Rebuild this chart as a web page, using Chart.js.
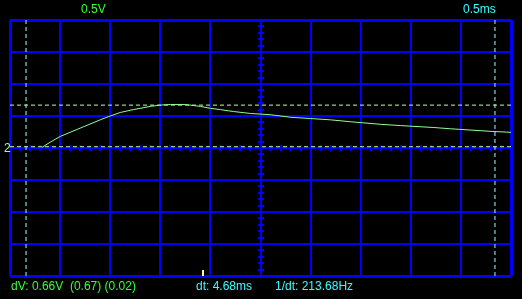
<!DOCTYPE html>
<html>
<head>
<meta charset="utf-8">
<script src="https://cdn.jsdelivr.net/npm/chart.js@4"></script>
<style>
  html, body { margin: 0; padding: 0; background: #000; }
  #wrap { width: 522px; height: 299px; }
</style>
</head>
<body>
<div id="wrap"><canvas id="scope"></canvas></div>
<script>
// trace: time in ms, voltage in V
const traceTime = [0.32, 0.40, 0.50, 0.70, 0.90, 1.00, 1.10, 1.23, 1.30, 1.40, 1.50, 1.60, 1.75, 1.90, 2.00, 2.10, 2.23, 2.40, 2.60, 2.80, 3.00, 3.20, 3.40, 3.70, 3.90, 4.23, 4.40, 4.60, 4.80, 5.00];
const traceVolts = [0.01, 0.09, 0.18, 0.31, 0.44, 0.50, 0.555, 0.60, 0.62, 0.65, 0.67, 0.68, 0.68, 0.65, 0.62, 0.60, 0.57, 0.54, 0.52, 0.48, 0.46, 0.44, 0.41, 0.37, 0.35, 0.32, 0.30, 0.28, 0.26, 0.245];

const cursorTimes = [0.16, 4.84];
const cursorVolts = [0.67, 0.02];
const triggerTime = 1.92;

const timeRange = [0, 5];
const voltRange = [-2, 2];
const divStep = 0.5;

const voltLabel = "0.5V";
const timeLabel = "0.5ms";
const dvText = "dV: 0.66V  (0.67) (0.02)";
const dtText = "dt: 4.68ms";
const freqText = "1/dt: 213.68Hz";
const channelMark = "2";

const tracePoints = traceTime.map((t, i) => ({ x: t, y: traceVolts[i] }));

const cursorSets = [];
cursorTimes.forEach(t => {
  cursorSets.push({
    data: [{ x: t, y: voltRange[0] }, { x: t, y: voltRange[1] }],
    borderColor: "#a0ffff", borderWidth: 1, borderDash: [4, 3],
    pointRadius: 0, clip: false
  });
});
cursorVolts.forEach(v => {
  cursorSets.push({
    data: [{ x: timeRange[0], y: v }, { x: timeRange[1], y: v }],
    borderColor: "#c0ffa0", borderWidth: 1, borderDash: [4, 3],
    pointRadius: 0, clip: false
  });
});

const scopePlugin = {
  id: "scope",
  beforeDraw(chart) {
    const c = chart.ctx;
    c.save();
    c.fillStyle = "#000";
    c.fillRect(0, 0, chart.width, chart.height);
    c.restore();
  },
  beforeDatasetsDraw(chart) {
    const c = chart.ctx, xs = chart.scales.x, ys = chart.scales.y;
    const cx = Math.round(xs.getPixelForValue(2.5));
    const cy = Math.round(ys.getPixelForValue(0));
    c.save();
    c.strokeStyle = "#0000ff";
    c.lineWidth = 2;
    c.beginPath();
    for (let v = voltRange[0]; v <= voltRange[1] + 1e-6; v += 0.1) {
      const y = Math.round(ys.getPixelForValue(v));
      c.moveTo(cx - 3, y); c.lineTo(cx + 3, y);
    }
    for (let t = timeRange[0]; t <= timeRange[1] + 1e-6; t += 0.1) {
      const x = Math.round(xs.getPixelForValue(t));
      c.moveTo(x, cy - 3); c.lineTo(x, cy + 3);
    }
    c.stroke();
    c.restore();
  },
  afterDraw(chart) {
    const c = chart.ctx, xs = chart.scales.x, ys = chart.scales.y;
    const area = chart.chartArea;
    c.save();
    // trigger marker
    c.fillStyle = "#ffff80";
    c.fillRect(Math.round(xs.getPixelForValue(triggerTime)), area.bottom - 6, 2, 6);
    c.font = "12px 'Liberation Sans Narrow', 'Liberation Sans', Arial, sans-serif";
    c.textBaseline = "middle";
    c.fillStyle = "#33ff33";
    c.fillText(voltLabel, 81, 10);
    c.fillText(dvText, 11, 287);
    c.fillStyle = "#33ffff";
    c.fillText(timeLabel, 463, 10);
    c.fillText(dtText, 196, 287);
    c.fillText(freqText, 275, 287);
    c.fillStyle = "#a0ffa0";
    c.fillText(channelMark, 4, ys.getPixelForValue(0) + 1);
    c.restore();
  }
};

new Chart(document.getElementById("scope"), {
  type: "line",
  data: {
    datasets: [
      { data: tracePoints, borderColor: "#90ff90", borderWidth: 1, pointRadius: 0, tension: 0 },
      ...cursorSets
    ]
  },
  options: {
    responsive: true,
    maintainAspectRatio: false,
    animation: false,
    events: [],
    layout: { padding: { left: 10, top: 20, right: 11, bottom: 23 } },
    plugins: { legend: { display: false }, tooltip: { enabled: false } },
    scales: {
      x: {
        type: "linear", min: timeRange[0], max: timeRange[1],
        ticks: { display: false, stepSize: divStep },
        border: { display: false },
        grid: {
          drawTicks: false, color: "#0000ff",
          lineWidth: ctx => (ctx.index === 0 || ctx.index === 10) ? 3 : 2
        }
      },
      y: {
        type: "linear", min: voltRange[0], max: voltRange[1],
        ticks: { display: false, stepSize: divStep },
        border: { display: false },
        grid: {
          drawTicks: false, color: "#0000ff",
          lineWidth: ctx => (ctx.index === 0 || ctx.index === 8) ? 3 : 2
        }
      }
    }
  },
  plugins: [scopePlugin]
});
</script>
</body>
</html>
